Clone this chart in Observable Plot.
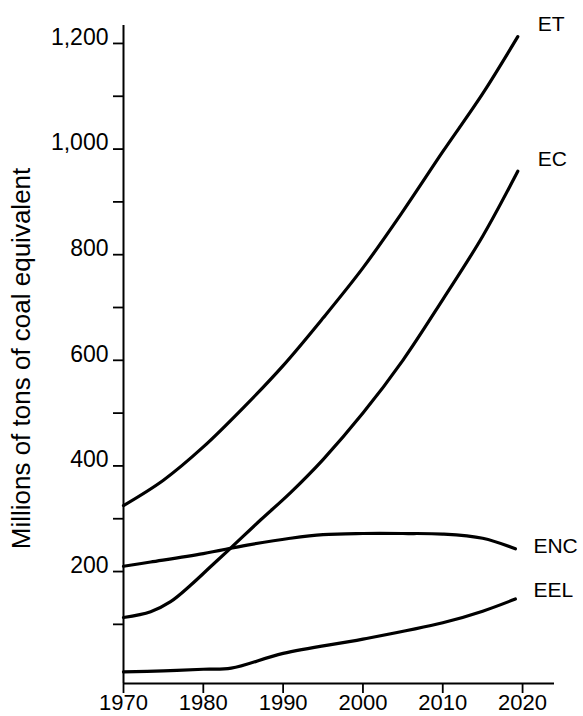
<!DOCTYPE html>
<html>
<head>
<meta charset="utf-8">
<script src="https://cdn.jsdelivr.net/npm/d3@7"></script>
<script src="https://cdn.jsdelivr.net/npm/@observablehq/plot@0.6"></script>
<style>
  html, body { margin: 0; padding: 0; background: #fff; }
  svg { display: block; }
</style>
</head>
<body>
<div id="chart"></div>
<script>
// ---- data ----
const seriesNames = ["ET", "EC", "ENC", "EEL"];

const etYears  = [1970, 1975, 1980, 1985, 1990, 1995, 2000, 2005, 2010, 2015, 2019.4];
const etValues = [325, 373, 436, 510, 590, 680, 775, 882, 995, 1105, 1213];

const ecYears  = [1970, 1973.4, 1975.9, 1978.4, 1980.9, 1983.4, 1987.2, 1990.9, 1995, 2000, 2005, 2010, 2015, 2019.4];
const ecValues = [113, 124, 143, 174, 209, 244, 298, 349, 412, 500, 600, 715, 835, 958];

const encYears  = [1970, 1973.4, 1980, 1985.5, 1990.9, 1995, 2000, 2005, 2010, 2015, 2019.1];
const encValues = [210, 218, 234, 250, 263, 270, 272, 272, 271, 263, 243];

const eelYears  = [1970, 1975, 1980, 1983.5, 1990, 2000, 2010, 2015, 2019.1];
const eelValues = [10, 12, 15, 17, 45, 72, 103, 125, 148];

const xTicks = [1970, 1980, 1990, 2000, 2010, 2020];
const yMajorTicks = [200, 400, 600, 800, 1000, 1200];
const yAllTicks = [100, 200, 300, 400, 500, 600, 700, 800, 900, 1000, 1100, 1200];
const yLabel = "Millions of tons of coal equivalent";

const xDomain = [1970, 2024];
const yDomain = [-12, 1234];

// ---- build table ----
const seriesYears = [etYears, ecYears, encYears, eelYears];
const seriesValues = [etValues, ecValues, encValues, eelValues];
const rows = [];
seriesNames.forEach((name, i) => {
  seriesYears[i].forEach((yr, j) => rows.push({series: name, year: yr, value: seriesValues[i][j]}));
});
const ends = seriesNames.map((name, i) => ({
  series: name,
  year: seriesYears[i][seriesYears[i].length - 1],
  value: seriesValues[i][seriesValues[i].length - 1]
}));
const labelDy = {ET: -12, EC: -12, ENC: -3, EEL: -9};
const labelDx = {ET: 20, EC: 20, ENC: 18, EEL: 18};

const font = "'Liberation Sans', Arial, Helvetica, sans-serif";

const chart = Plot.plot({
  width: 583,
  height: 716,
  marginLeft: 123,
  marginRight: 29,
  marginTop: 25,
  marginBottom: 33,
  style: {fontFamily: font, fontSize: "23px", background: "#fff", color: "#000"},
  x: {domain: xDomain},
  y: {domain: yDomain},
  marks: [
    // axis lines
    Plot.ruleX([xDomain[0]], {stroke: "#000", strokeWidth: 2}),
    Plot.ruleY([yDomain[0]], {stroke: "#000", strokeWidth: 2}),
    // y ticks (major + minor)
    Plot.axisY({ticks: yAllTicks, tickSize: 10, tickFormat: () => "", strokeWidth: 1.8, label: null}),
    // y tick labels
    Plot.axisY({ticks: yMajorTicks, tickSize: 0, tickPadding: 15, tickFormat: d3.format(","), dy: -6, label: null}),
    // x ticks + labels
    Plot.axisX({ticks: xTicks, tickSize: 10, tickPadding: 1, tickFormat: d => String(d), strokeWidth: 1.8, fontSize: 22, label: null}),
    // y axis title
    Plot.text([yLabel], {frameAnchor: "left", textAnchor: "middle", rotate: -90, dx: -102, dy: 4, fontSize: 26, lineAnchor: "middle", text: d => d}),
    // series lines
    Plot.line(rows, {x: "year", y: "value", z: "series", curve: "catmull-rom", stroke: "#000", strokeWidth: 3.2, strokeLinecap: "round"}),
    // series labels
    ...ends.map(e => Plot.text([e], {
      x: "year", y: "value", text: "series",
      dx: labelDx[e.series], dy: labelDy[e.series],
      textAnchor: "start", fontSize: 21, fill: "#000",
      style: {letterSpacing: "1px"}
    }))
  ]
});
document.getElementById("chart").appendChild(chart);
</script>
</body>
</html>
